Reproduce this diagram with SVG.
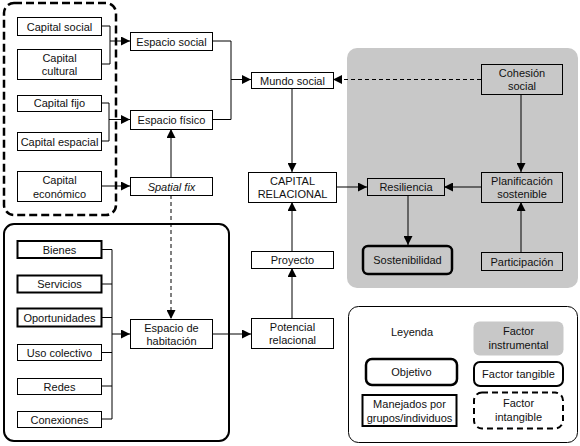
<svg xmlns="http://www.w3.org/2000/svg" width="580" height="446" viewBox="0 0 580 446">
<defs>
<marker id="ah" viewBox="0 0 10 10" refX="10" refY="5" markerWidth="9" markerHeight="9" markerUnits="userSpaceOnUse" orient="auto"><path d="M0,0 L10,5 L0,10 z" fill="#000"/></marker>
<style>
.n{fill:#fff;stroke:#000;stroke-width:1}
.g{fill:#c8c8c8;stroke:#000;stroke-width:1}
.thick{fill:#fff;stroke:#000;stroke-width:2}
.t{font-family:"Liberation Sans",Arial,sans-serif;font-size:11px;fill:#111;text-anchor:middle}
.c{fill:none;stroke:#000;stroke-width:1}
.a{fill:none;stroke:#000;stroke-width:1;marker-end:url(#ah)}
.d{fill:none;stroke:#000;stroke-width:1;stroke-dasharray:4,3;marker-end:url(#ah)}
</style>
</defs>
<rect x="0" y="0" width="580" height="446" fill="#fff"/>
<g id="frames">
<rect x="4" y="3" width="112" height="212" rx="10" fill="none" stroke="#000" stroke-width="2.5" stroke-dasharray="8,4"/>
<rect x="4" y="224" width="225" height="217" rx="10" fill="none" stroke="#000" stroke-width="2"/>
<rect x="347" y="48" width="231" height="240" rx="10" fill="#c8c8c8"/>
<rect x="348.5" y="306.5" width="229" height="136" rx="10" fill="#fff" stroke="#000" stroke-width="1"/>
</g>
<g id="connectors">
<path class="c" d="M101,26 H110 V64 H101"/>
<path class="a" d="M110,41 H130"/>
<path class="c" d="M101,103 H109 V141 H101"/>
<path class="a" d="M109,119.5 H130"/>
<path class="a" d="M101,186 H130"/>
<path class="a" d="M171,177 V129"/>
<path class="d" d="M171,195 V319"/>
<path class="c" d="M212,41 H231 V119.5 H212"/>
<path class="a" d="M231,79.5 H251"/>
<path class="a" d="M292,88 V172"/>
<path class="d" d="M481,79.5 H333"/>
<path class="a" d="M521,94 V172"/>
<path class="a" d="M481,187 H444"/>
<path class="a" d="M336,187 H367"/>
<path class="a" d="M408,195 V245"/>
<path class="a" d="M521,252 V202"/>
<path class="a" d="M292,251 V202"/>
<path class="a" d="M292,318 V268"/>
<path class="c" d="M101,249.5 H112 M101,284 H112 M101,317.5 H112 M101,352.5 H112 M101,386 H112 M101,419 H112 M112,249.5 V419"/>
<path class="a" d="M112,334 H130"/>
<path class="a" d="M212,334 H251"/>
</g>
<g id="capital-social"><rect class="n" x="17.5" y="17.5" width="84" height="18"/><text class="t" x="59.5" y="30.5">Capital social</text></g>
<g id="capital-cultural"><rect class="n" x="17.5" y="49.5" width="84" height="30"/><text class="t" x="59.5" y="61.5">Capital</text><text class="t" x="59.5" y="75">cultural</text></g>
<g id="capital-fijo"><rect class="n" x="17.5" y="95.5" width="84" height="16"/><text class="t" x="59.5" y="107">Capital fijo</text></g>
<g id="capital-espacial"><rect class="n" x="17.5" y="132.5" width="84" height="18"/><text class="t" x="59.5" y="145.5">Capital espacial</text></g>
<g id="capital-economico"><rect class="n" x="17.5" y="171.5" width="84" height="30"/><text class="t" x="59.5" y="184">Capital</text><text class="t" x="59.5" y="197.5">económico</text></g>
<g id="espacio-social"><rect class="n" x="130.5" y="32.5" width="82" height="18"/><text class="t" x="171.5" y="45.5">Espacio social</text></g>
<g id="espacio-fisico"><rect class="n" x="130.5" y="110.5" width="82" height="19"/><text class="t" x="171.5" y="124">Espacio físico</text></g>
<g id="spatial-fix"><rect class="n" x="130.5" y="177.5" width="82" height="18"/><text class="t" x="171.5" y="190.5" font-style="italic">Spatial fix</text></g>
<g id="mundo-social"><rect class="n" x="251.5" y="72.5" width="82" height="16"/><text class="t" x="292.5" y="84.5">Mundo social</text></g>
<g id="capital-relacional"><rect class="n" x="248.5" y="172.5" width="88" height="30"/><text class="t" x="292.5" y="184.5">CAPITAL</text><text class="t" x="292.5" y="198">RELACIONAL</text></g>
<g id="proyecto"><rect class="n" x="251.5" y="251.5" width="82" height="17"/><text class="t" x="292.5" y="264">Proyecto</text></g>
<g id="potencial-relacional"><rect class="n" x="251.5" y="318.5" width="82" height="30"/><text class="t" x="292.5" y="330.5">Potencial</text><text class="t" x="292.5" y="344">relacional</text></g>
<g id="espacio-habitacion"><rect class="n" x="130.5" y="319.5" width="82" height="29"/><text class="t" x="171.5" y="331.5">Espacio de</text><text class="t" x="171.5" y="345">habitación</text></g>
<g id="bienes"><rect class="thick" x="17.5" y="241" width="84" height="17"/><text class="t" x="59.5" y="253.5">Bienes</text></g>
<g id="servicios"><rect class="thick" x="17.5" y="275.5" width="84" height="17"/><text class="t" x="59.5" y="288">Servicios</text></g>
<g id="oportunidades"><rect class="thick" x="17.5" y="308.5" width="84" height="18"/><text class="t" x="59.5" y="321.5">Oportunidades</text></g>
<g id="uso-colectivo"><rect class="n" x="17.5" y="344.5" width="84" height="16"/><text class="t" x="59.5" y="356.5">Uso colectivo</text></g>
<g id="redes"><rect class="n" x="17.5" y="378.5" width="84" height="16"/><text class="t" x="59.5" y="390.5">Redes</text></g>
<g id="conexiones"><rect class="n" x="17.5" y="411.5" width="84" height="16"/><text class="t" x="59.5" y="423.5">Conexiones</text></g>
<g id="cohesion-social"><rect class="g" x="481.5" y="64.5" width="81" height="30"/><text class="t" x="522" y="76.5">Cohesión</text><text class="t" x="522" y="90">social</text></g>
<g id="resiliencia"><rect class="g" x="367.5" y="178.5" width="77" height="17"/><text class="t" x="406" y="191">Resiliencia</text></g>
<g id="planificacion-sostenible"><rect class="g" x="481.5" y="172.5" width="81" height="30"/><text class="t" x="522" y="184.5">Planificación</text><text class="t" x="522" y="198">sostenible</text></g>
<g id="participacion"><rect class="g" x="481.5" y="252.5" width="81" height="18"/><text class="t" x="522" y="265.5">Participación</text></g>
<g id="sostenibilidad"><rect x="363" y="246" width="89" height="28" rx="5" fill="#c8c8c8" stroke="#000" stroke-width="2.5"/><text class="t" x="407.5" y="264">Sostenibilidad</text></g>
<g id="legend">
<text class="t" x="412" y="336">Leyenda</text>
<rect x="473.5" y="321.5" width="90" height="34" rx="6" fill="#c8c8c8"/><text class="t" x="518.5" y="335">Factor</text><text class="t" x="518.5" y="348.5">instrumental</text>
<rect x="366" y="359" width="91" height="26" rx="6" fill="#fff" stroke="#000" stroke-width="2.5"/><text class="t" x="411.5" y="375.5">Objetivo</text>
<rect x="474" y="362" width="89" height="24" rx="6" fill="#fff" stroke="#000" stroke-width="2"/><text class="t" x="518.5" y="377.5">Factor tangible</text>
<rect x="362.5" y="395" width="94" height="31" fill="#fff" stroke="#000" stroke-width="2"/><text class="t" x="409.5" y="408">Manejados por</text><text class="t" x="409.5" y="421.5">grupos/individuos</text>
<rect x="474" y="392.5" width="89" height="36" rx="8" fill="#fff" stroke="#000" stroke-width="2" stroke-dasharray="6,4"/><text class="t" x="518.5" y="407">Factor</text><text class="t" x="518.5" y="420.5">intangible</text>
</g>
</svg>
